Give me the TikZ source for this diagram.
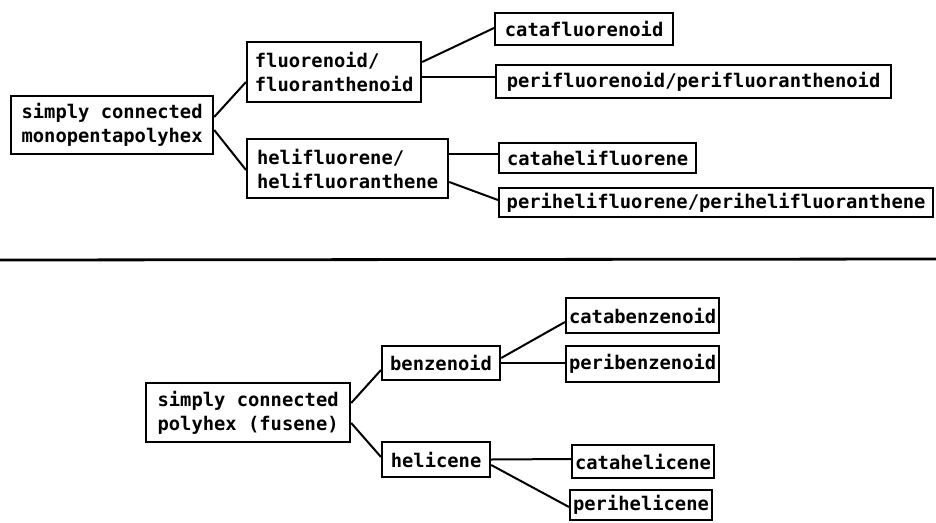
\documentclass[tikz,border=0pt]{standalone}
\usepackage{fontspec}
\setmonofont{DejaVu Sans Mono}
\usetikzlibrary{calc}
\begin{document}
\begin{tikzpicture}[x=1pt,y=-1pt,
  box/.style={draw,line width=2.2pt,anchor=west,inner xsep=3pt,inner ysep=2pt,
    font=\ttfamily\bfseries\fontsize{18.8}{24}\selectfont,align=left},
  link/.style={line width=2pt}]
\useasboundingbox (0,0) rectangle (936,522);
% top tree
\node[box,minimum width=202pt,minimum height=58pt] (r1) at (10,125) {simply connected\\monopentapolyhex};
\node[box,minimum width=174pt,minimum height=60pt] (f) at (246,72) {fluorenoid/\\fluoranthenoid};
\node[box,minimum width=201pt,minimum height=59pt] (h) at (246,168.5) {helifluorene/\\helifluoranthene};
\node[box,minimum width=178pt,minimum height=32pt] (cf) at (494,29) {catafluorenoid};
\node[box,minimum width=395pt,minimum height=33pt] (pf) at (495,81.5) {perifluorenoid/perifluoranthenoid};
\node[box,minimum width=434pt,minimum height=29pt] (ph) at (498,202.5) {perihelifluorene/perihelifluoranthene};
\node[box,minimum width=197pt,minimum height=30pt] (ch) at (498,158) {catahelifluorene};
\draw[link] ($(r1.east)+(0,-8)$) -- ($(f.west)+(0,10)$);
\draw[link] ($(r1.east)+(0,5)$) -- ($(h.west)+(0,1.5)$);
\draw[link] ($(f.east)+(0,-10)$) -- ($(cf.west)+(0,-1)$);
\draw[link] ($(f.east)+(0,5)$) -- ($(pf.west)+(0,-4.5)$);
\draw[link] ($(h.east)+(0,-14.5)$) -- ($(ch.west)+(0,-4)$);
\draw[link] ($(h.east)+(0,13.5)$) -- ($(ph.west)+(0,-2.5)$);
% divider
\coordinate (dl) at (0,260);
\coordinate (dr) at (936,259);
\draw[line width=2.8pt] (dl) -- (dr);
% bottom tree
\node[box,minimum width=204pt,minimum height=59pt] (r2) at (145,412.5) {simply connected\\polyhex (fusene)};
\node[box,minimum width=118pt,minimum height=34pt] (b) at (381,363) {benzenoid};
\node[box,minimum width=108pt,minimum height=35pt] (hc) at (381,459.5) {helicene};
\node[box,minimum width=135pt,minimum height=35pt] (cb) at (565,315.5) {catabenzenoid};
\node[box,minimum width=136pt,minimum height=36pt] (pb) at (565,364) {peribenzenoid};
\node[box,minimum width=137pt,minimum height=33pt] (cbh) at (571,461.5) {catahelicene};
\node[box,minimum width=138pt,minimum height=30pt] (phc) at (569,505) {perihelicene};
\draw[link] ($(r2.east)+(0,-9.5)$) -- ($(b.west)+(0,7)$);
\draw[link] ($(r2.east)+(0,10.5)$) -- ($(hc.west)+(0,-2.5)$);
\draw[link] ($(b.east)+(0,-5)$) -- ($(cb.west)+(0,6.5)$);
\draw[link] (b.east) -- ($(pb.west)+(0,-1)$);
\draw[link] (hc.east) -- ($(cbh.west)+(0,-2.5)$);
\draw[link] ($(hc.east)+(0,5.5)$) -- ($(phc.west)+(0,2)$);
\end{tikzpicture}
\end{document}
